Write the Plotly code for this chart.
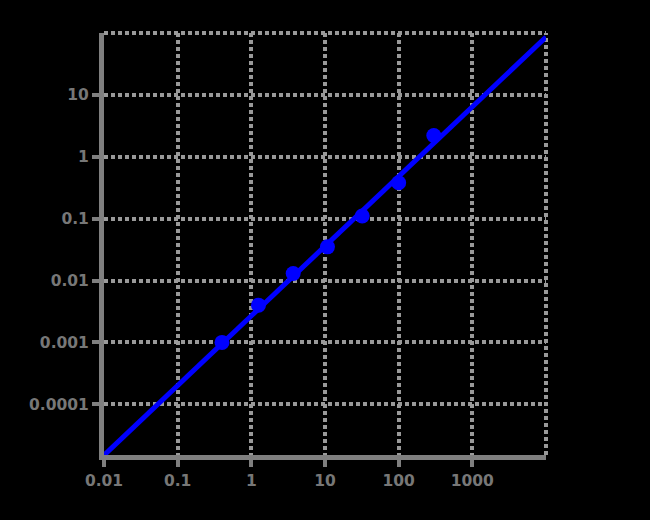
import plotly.graph_objects as go

# data
conc = [0.4, 1.25, 3.7, 10.8, 32, 100, 300]
resp = [0.001, 0.004, 0.013, 0.035, 0.11, 0.38, 2.2]
fit_x = [0.01, 10000]
fit_y = [1.5e-5, 86]
x_ticks = [0.01, 0.1, 1, 10, 100, 1000]
x_labels = ["0.01", "0.1", "1", "10", "100", "1000"]
y_ticks = [0.0001, 0.001, 0.01, 0.1, 1, 10]
y_labels = ["0.0001", "0.001", "0.01", "0.1", "1", "10"]

txt = "#777777"
axc = "#7f7f7f"
grid = "#999999"
fig = go.Figure()
fig.add_trace(go.Scatter(x=fit_x, y=fit_y, mode="lines",
                         line=dict(color="#0000ff", width=5), showlegend=False))
fig.add_trace(go.Scatter(x=conc, y=resp, mode="markers",
                         marker=dict(color="#0000ff", size=15), showlegend=False))

tf = dict(family="DejaVu Sans", size=15.5, color=txt, weight="bold")
common = dict(showgrid=True, gridcolor=grid, gridwidth=4, griddash="4px,3px",
              showline=True, linecolor=axc, linewidth=5,
              ticks="outside", ticklen=7, tickwidth=4, tickcolor=axc,
              tickfont=tf, zeroline=False)
fig.update_layout(
    width=650, height=520,
    paper_bgcolor="black", plot_bgcolor="black",
    margin=dict(l=104, r=104, t=33, b=65),
    xaxis=dict(type="log", range=[-2, 4], tickvals=x_ticks, ticktext=x_labels, **common),
    yaxis=dict(type="log", range=[-4.82, 2], tickvals=y_ticks, ticktext=y_labels, **common),
)
# dotted frame on top and right edges (continuation of the grid)
fig.add_shape(type="line", xref="paper", yref="paper", x0=0, x1=1, y0=1, y1=1,
              line=dict(color=grid, width=4, dash="4px,3px"), layer="below")
fig.add_shape(type="line", xref="paper", yref="paper", x0=1, x1=1, y0=0, y1=1,
              line=dict(color=grid, width=4, dash="4px,3px"), layer="below")
fig.write_html("out.html", config={"displayModeBar": False},
               post_script="document.body.style.margin='0';document.body.style.background='black';document.documentElement.style.background='black';")
